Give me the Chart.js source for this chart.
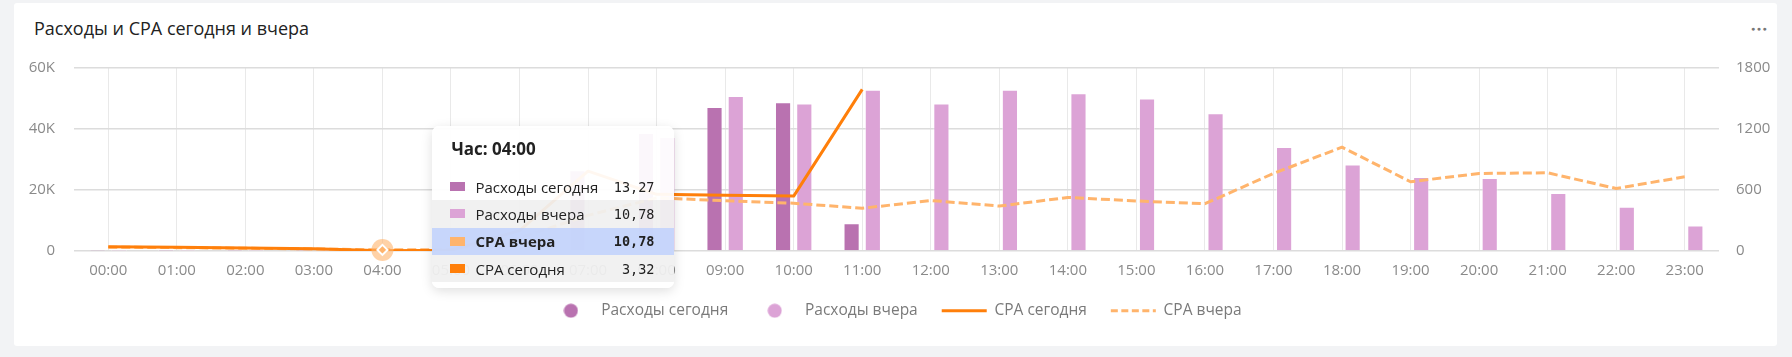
<!DOCTYPE html>
<html lang="ru">
<head>
<meta charset="utf-8">
<title>Расходы и CPA сегодня и вчера</title>
<script src="https://cdn.jsdelivr.net/npm/chart.js@4.4.1/dist/chart.umd.min.js"></script>
<style>
  html, body { margin: 0; padding: 0; }
  body { width: 1792px; height: 357px; overflow: hidden; background: #f2f3f5; font-family: 'Open Sans', sans-serif; position: relative; }
  .card { position: absolute; left: 14px; top: 3px; width: 1763px; height: 343px; background: #fff; border-radius: 3px; }
  .title { position: absolute; left: 34px; top: 16px; font-size: 18px; line-height: 25px; color: #222; }
  .dots { position: absolute; left: 1751px; top: 20px; font-size: 7px; letter-spacing: 1.5px; color: #777; line-height: 18px; }
  #chart { position: absolute; left: 0; top: 0; }
  #tip { position: absolute; width: 242px; height: 162px; background: rgba(255,255,255,0.94); border-radius: 7px;
         box-shadow: 0 3px 12px rgba(0,0,0,0.13); overflow: hidden; color: #222; pointer-events: none; }
  #tip .tip-title { height: 47px; line-height: 46px; padding-left: 19px; font-weight: 700; font-size: 17px; }
  #tip .row { height: 27.3px; display: flex; align-items: center; }
  #tip .row.alt { background: rgba(0,0,0,0.055); }
  #tip .row.active { background: rgba(178,198,250,0.72); font-weight: 700; }
  #tip .sw { width: 15px; height: 9px; margin-left: 18px; margin-right: 10px; flex: none; }
  #tip .lbl { flex: 1; font-size: 15px; }
  #tip .val { font-family: 'DejaVu Sans Mono', monospace; font-size: 13.5px; margin-right: 20px; }
</style>
</head>
<body>
<div class="card"></div>
<div class="title">Расходы и CPA сегодня и вчера</div>
<div class="dots">●●●</div>
<canvas id="chart" width="1792" height="357"></canvas>
<div id="tip"></div>
<script>
// часы
const hours = ['00:00','01:00','02:00','03:00','04:00','05:00','06:00','07:00','08:00','09:00','10:00','11:00',
               '12:00','13:00','14:00','15:00','16:00','17:00','18:00','19:00','20:00','21:00','22:00','23:00'];

// расходы (левая ось)
const spendToday = [42, 36, 30, 22, 13.27, 9, 210, 26500, 38700, 47200, 48800, 9100,
                    null, null, null, null, null, null, null, null, null, null, null, null];
const spendYesterday = [38, 33, 27, 20, 10.78, 14, 130, 350, 37400, 50800, 48400, 52900,
                        48400, 52900, 51700, 50000, 45200, 34100, 28400, 24300, 23900, 19000, 14500, 8400];

// CPA (правая ось)
const cpaToday = [42, 36, 30, 22, 3.32, 8, 200, 785, 557, 548, 540, 1590,
                  null, null, null, null, null, null, null, null, null, null, null, null];
const cpaYesterday = [38, 33, 27, 20, 10.78, 14, 130, 350, 523, 494, 470, 420,
                      497, 442, 527, 492, 465, 763, 1021, 681, 763, 769, 615, 730];

const C_TODAY = '#b972b0';
const C_YEST = '#dca3d6';
const C_CPA_TODAY = '#ff7f0a';
const C_CPA_YEST = '#ffb46c';

// порядок строк в тултипе: расходы сегодня, расходы вчера, CPA вчера, CPA сегодня
const tipOrder = [0, 1, 3, 2];
const hoverHour = 4;

const fmt = v => Number(v).toFixed(2).replace('.', ',');

function swatch(ds){ return ds.type === 'bar' ? ds.backgroundColor : ds.borderColor; }

// кружок для легенды (иначе pointStyleWidth растягивает его в эллипс)
function dot(color){
  const c = document.createElement('canvas');
  c.width = 15; c.height = 15;
  const g = c.getContext('2d');
  g.fillStyle = color;
  g.beginPath();
  g.arc(7.5, 7.5, 7, 0, Math.PI * 2);
  g.fill();
  return c;
}

function externalTooltip(context){
  const {chart, tooltip} = context;
  const el = document.getElementById('tip');
  if (tooltip.opacity === 0) { el.style.opacity = 0; return; }
  const byDs = {};
  tooltip.dataPoints.forEach(p => { byDs[p.datasetIndex] = p; });
  const hovered = chart.getActiveElements().map(a => a.datasetIndex);
  let html = `<div class="tip-title">${tooltip.title[0]}</div>`;
  tipOrder.forEach((di, row) => {
    const p = byDs[di];
    if (!p) return;
    const ds = chart.data.datasets[di];
    const cls = hovered.includes(di) ? 'row active' : (row % 2 ? 'row alt' : 'row');
    html += `<div class="${cls}"><span class="sw" style="background:${swatch(ds)}"></span>` +
            `<span class="lbl">${ds.label}</span><span class="val">${fmt(p.raw)}</span></div>`;
  });
  el.innerHTML = html;
  el.style.opacity = 1;
  el.style.left = (chart.canvas.offsetLeft + tooltip.caretX + 50) + 'px';
  el.style.top = (chart.canvas.offsetTop + chart.chartArea.top + 58) + 'px';
}

// подсветка активной точки (ореол)
const haloPlugin = {
  id: 'halo',
  afterDatasetsDraw(chart){
    const ctx = chart.ctx;
    chart.getActiveElements().forEach(a => {
      const el = a.element;
      ctx.save();
      ctx.beginPath();
      ctx.arc(el.x, el.y, 11, 0, Math.PI * 2);
      ctx.fillStyle = 'rgba(255,180,108,0.6)';
      ctx.fill();
      ctx.restore();
      el.draw(ctx);
    });
  }
};

const tickFont = { family: "'Open Sans', sans-serif", size: 15 };
const barEdge = 'rgba(255,255,255,0.45)';

const chart = new Chart(document.getElementById('chart'), {
  data: {
    labels: hours,
    datasets: [
      { type: 'bar', label: 'Расходы сегодня', data: spendToday, backgroundColor: C_TODAY, yAxisID: 'y', order: 1,
        borderColor: barEdge, borderWidth: 1, categoryPercentage: 0.62, barPercentage: 0.76 },
      { type: 'bar', label: 'Расходы вчера', data: spendYesterday, backgroundColor: C_YEST, yAxisID: 'y', order: 1,
        borderColor: barEdge, borderWidth: 1, categoryPercentage: 0.62, barPercentage: 0.76 },
      { type: 'line', label: 'CPA сегодня', data: cpaToday, borderColor: C_CPA_TODAY, backgroundColor: C_CPA_TODAY,
        borderWidth: 3, pointRadius: 0, pointHoverRadius: 0, tension: 0, yAxisID: 'y1', order: 0,
        borderJoinStyle: 'round', spanGaps: false },
      { type: 'line', label: 'CPA вчера', data: cpaYesterday, borderColor: C_CPA_YEST, backgroundColor: C_CPA_YEST,
        borderWidth: 3, borderDash: [9, 4], pointRadius: 0, pointStyle: 'rectRot', pointHoverRadius: 5,
        pointHoverBackgroundColor: C_CPA_YEST, pointHoverBorderColor: '#fff', pointHoverBorderWidth: 2,
        tension: 0, yAxisID: 'y1', order: 0, borderJoinStyle: 'round' }
    ]
  },
  options: {
    responsive: false,
    animation: false,
    layout: { padding: { left: 14, right: 16, top: 68, bottom: 28.5 } },
    scales: {
      x: {
        offset: true,
        grid: { offset: false, color: '#e9e9e9', lineWidth: 1, drawTicks: false },
        border: { display: false },
        ticks: { color: '#8a8a8a', font: tickFont, padding: 11, autoSkip: false, maxRotation: 0 },
        afterFit: s => { s.height = 28; }
      },
      y: {
        position: 'left', min: 0, max: 60000,
        grid: { color: '#dcdcdc', lineWidth: 1.5, drawTicks: false },
        border: { display: false },
        ticks: { stepSize: 20000, color: '#8a8a8a', font: tickFont, padding: 19,
                 callback: v => v === 0 ? '0' : (v / 1000) + 'K' },
        afterFit: s => { s.width = 60; }
      },
      y1: {
        position: 'right', min: 0, max: 1800,
        grid: { display: false, drawTicks: false },
        border: { display: false },
        ticks: { stepSize: 600, color: '#8a8a8a', font: tickFont, padding: 17, callback: v => String(v) },
        afterFit: s => { s.width = 57; }
      }
    },
    plugins: {
      legend: {
        position: 'bottom',
        labels: {
          usePointStyle: true,
          pointStyleWidth: 45,
          boxHeight: 10,
          padding: 24,
          color: '#7a7a7a',
          font: { family: "'Open Sans', sans-serif", size: 15.5 },
          generateLabels: ch => ch.data.datasets.map((ds, i) => ({
            text: ds.label,
            datasetIndex: i,
            fillStyle: ds.type === 'bar' ? ds.backgroundColor : 'rgba(0,0,0,0)',
            strokeStyle: ds.type === 'bar' ? ds.backgroundColor : ds.borderColor,
            lineWidth: ds.type === 'bar' ? 0 : 3,
            lineDash: ds.borderDash ? [7, 3.5] : [],
            pointStyle: ds.type === 'bar' ? dot(ds.backgroundColor) : 'line',
            fontColor: '#7a7a7a',
            hidden: false
          }))
        }
      },
      tooltip: {
        enabled: false,
        external: externalTooltip,
        callbacks: { title: items => 'Час: ' + items[0].label }
      }
    }
  },
  plugins: [haloPlugin]
});

// состояние как на снимке: наведение на CPA вчера в 04:00
chart.setActiveElements([{ datasetIndex: 3, index: hoverHour }]);
chart.tooltip.setActiveElements(tipOrder.map(di => ({ datasetIndex: di, index: hoverHour })), { x: 0, y: 0 });
chart.update('none');
</script>
</body>
</html>
